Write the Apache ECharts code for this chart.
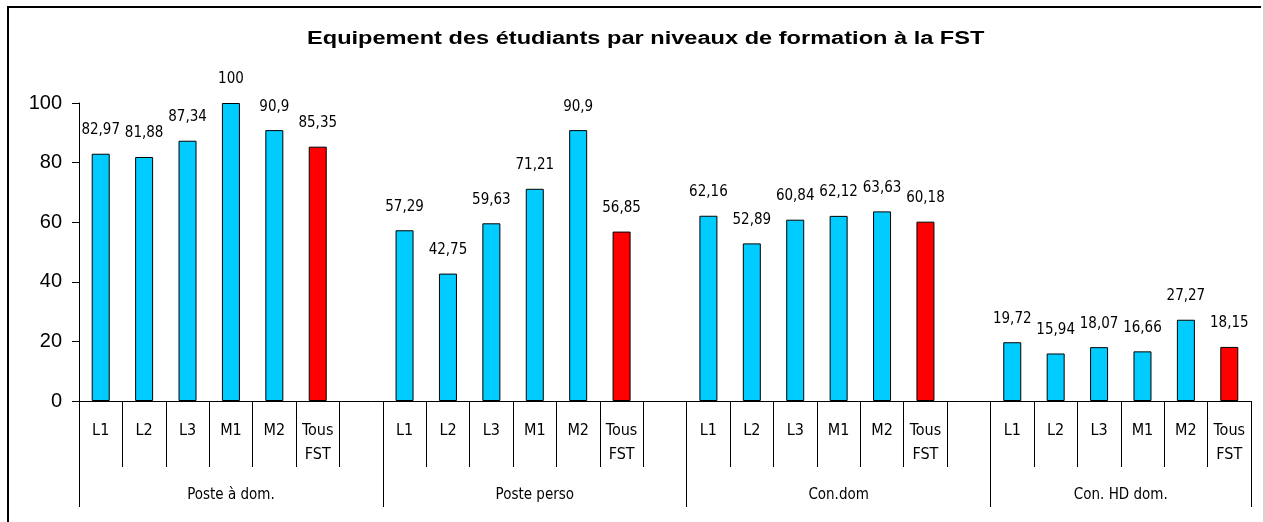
<!DOCTYPE html>
<html>
<head>
<meta charset="utf-8">
<script src="https://cdn.jsdelivr.net/npm/echarts@6/dist/echarts.min.js"></script>
<style>
html,body{margin:0;padding:0;background:#fff;}
#chart{width:1265px;height:522px;}
</style>
</head>
<body>
<div id="chart"></div>
<script>
const titleText = 'Equipement des étudiants par niveaux de formation à la FST';
const levels = ['L1', 'L2', 'L3', 'M1', 'M2', 'Tous\nFST'];
const groups = ['Poste à dom.', 'Poste perso', 'Con.dom', 'Con. HD dom.'];
const posteDom = [82.97, 81.88, 87.34, 100, 90.9, 85.35];
const postePerso = [57.29, 42.75, 59.63, 71.21, 90.9, 56.85];
const conDom = [62.16, 52.89, 60.84, 62.12, 63.63, 60.18];
const conHdDom = [19.72, 15.94, 18.07, 16.66, 27.27, 18.15];
const yTicks = [0, 20, 40, 60, 80, 100];

const groupValues = [posteDom, postePerso, conDom, conHdDom];
const categories = [];
const barData = [];
const groupStarts = [];
const groupCenters = [];
groupValues.forEach((vals, g) => {
  groupStarts.push(categories.length);
  const slots = g < groupValues.length - 1 ? levels.length + 1 : levels.length;
  groupCenters.push(categories.length + slots / 2);
  levels.forEach((lv, i) => {
    categories.push(lv);
    barData.push({
      value: vals[i],
      itemStyle: { color: i === levels.length - 1 ? '#FF0000' : '#00CCFF' }
    });
  });
  if (g < groupValues.length - 1) {
    categories.push('');
    barData.push(null);
  }
});
groupStarts.push(categories.length);

const narrow = '"Liberation Sans Narrow", "DejaVu Sans Condensed", "Liberation Sans", sans-serif';
const chart = echarts.init(document.getElementById('chart'), null, { renderer: 'canvas' });
chart.setOption({
  animation: false,
  backgroundColor: '#fff',
  graphic: [
    { type: 'polyline', shape: { points: [[8, 540], [8, 7], [1261, 7]] }, style: { stroke: '#000', lineWidth: 2, fill: null } },
    { type: 'line', shape: { x1: 1264, y1: 0, x2: 1264, y2: 522 }, style: { stroke: '#aaa', lineWidth: 1 } },
    {
      type: 'text', x: 307, y: 39, scaleX: 1.31,
      style: {
        text: titleText,
        fontFamily: '"Liberation Sans", Arial, sans-serif', fontSize: 18, fontWeight: 'bold',
        fill: '#000', textAlign: 'left', textVerticalAlign: 'middle', verticalAlign: 'middle'
      }
    }
  ],
  grid: { left: 79, right: 14, top: 103, bottom: 121, containLabel: false },
  xAxis: [
    {
      type: 'category',
      data: categories,
      boundaryGap: true,
      axisLine: { lineStyle: { color: '#000', width: 1 } },
      axisTick: { show: true, interval: 0, length: 66, lineStyle: { color: '#000', width: 1 } },
      axisLabel: {
        interval: 0, margin: 18, color: '#000',
        fontFamily: narrow, fontSize: 16, lineHeight: 24
      },
      splitLine: { show: false }
    },
    {
      type: 'value',
      position: 'bottom',
      min: 0,
      max: categories.length,
      axisLine: { show: false },
      axisTick: { show: true, customValues: groupStarts, length: 106, lineStyle: { color: '#000', width: 1 } },
      axisLabel: {
        customValues: groupCenters,
        margin: 84,
        color: '#000',
        fontFamily: narrow, fontSize: 15, lineHeight: 20,
        formatter: v => { const i = groupCenters.indexOf(v); return i >= 0 ? groups[i] : ''; }
      },
      splitLine: { show: false }
    }
  ],
  yAxis: {
    type: 'value',
    min: yTicks[0],
    max: yTicks[yTicks.length - 1],
    interval: yTicks[1] - yTicks[0],
    axisLine: { show: true, lineStyle: { color: '#000', width: 1 } },
    axisTick: { show: true, length: 7, lineStyle: { color: '#000' } },
    axisLabel: { margin: 17, color: '#000', fontFamily: '"Liberation Sans", Arial, sans-serif', fontSize: 20 },
    splitLine: { show: false }
  },
  series: [{
    type: 'bar',
    xAxisIndex: 0,
    data: barData,
    barWidth: 18,
    itemStyle: { borderColor: '#000', borderWidth: 1 },
    label: {
      show: true,
      position: 'top',
      distance: 16,
      color: '#000',
      fontFamily: narrow,
      fontSize: 15,
      lineHeight: 15,
      formatter: p => String(p.value).replace('.', ',')
    }
  }]
});
</script>
</body>
</html>
